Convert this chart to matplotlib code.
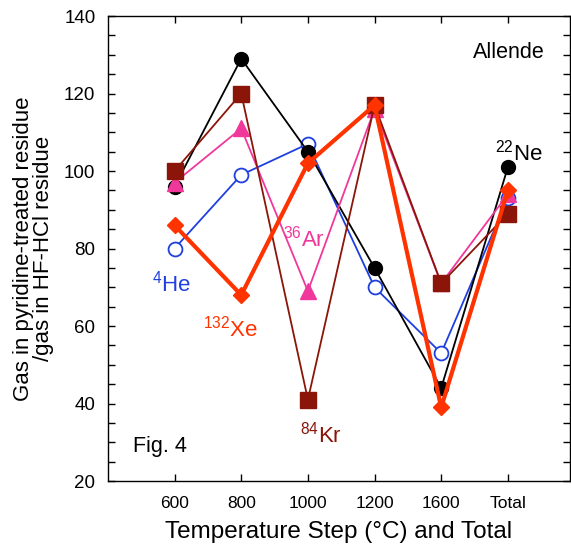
import matplotlib
matplotlib.use("Agg")
import matplotlib.pyplot as plt
from matplotlib.ticker import MultipleLocator

plt.rcParams['font.family'] = ['Liberation Sans', 'DejaVu Sans']
plt.rcParams['mathtext.fontset'] = 'custom'
plt.rcParams['mathtext.rm'] = 'Liberation Sans'
plt.rcParams['mathtext.it'] = 'Liberation Sans'

steps = ['600', '800', '1000', '1200', '1600', 'Total']
he4 = [80, 99, 107, 70, 53, 93]
ne22 = [96, 129, 105, 75, 44, 101]
ar36 = [97, 111, 69, 116, 71, 94]
kr84 = [100, 120, 41, 117, 71, 89]
xe132 = [86, 68, 102, 117, 39, 95]

xpos = list(range(1, len(steps) + 1))

fig = plt.figure(figsize=(5.71, 5.45), dpi=100)
ax = fig.add_axes([0.189, 0.1174, 0.809, 0.8532])

ax.plot(xpos, he4, color='#1f3fe0', lw=1.3, marker='o', ms=10,
        mfc='white', mec='#1f3fe0', mew=1.3)
ax.plot(xpos, ne22, color='black', lw=1.3, marker='o', ms=10)
ax.plot(xpos, ar36, color='#f0389c', lw=1.3, marker='^', ms=11)
ax.plot(xpos, kr84, color='#8b1508', lw=1.3, marker='s', ms=11)
ax.plot(xpos, xe132, color='#ff3300', lw=3, marker='D', ms=8.5)

# labels in the plot
ax.text(5.47, 129.2, 'Allende', fontsize=15.5)
ax.text(5.81, 102.8, '$^{22}$Ne', fontsize=16, color='black')
ax.text(0.66, 68.8, '$^{4}$He', fontsize=16, color='#1f3fe0')
ax.text(1.43, 57.2, '$^{132}$Xe', fontsize=16, color='#ff3300')
ax.text(2.63, 80.4, '$^{36}$Ar', fontsize=16, color='#f0389c')
ax.text(2.88, 30, '$^{84}$Kr', fontsize=16, color='#8b1508')
ax.text(0.37, 27.5, 'Fig. 4', fontsize=15.5)

ax.set_xlim(0, 6.93)
ax.set_ylim(20, 140)
ax.set_xticks(xpos)
ax.set_xticklabels(steps, fontsize=12.5)
ax.yaxis.set_major_locator(MultipleLocator(20))
ax.yaxis.set_minor_locator(MultipleLocator(5))
ax.tick_params(axis='y', labelsize=13.5, pad=9)
ax.tick_params(which='both', direction='in', top=True, right=True,
               length=5, width=1)
ax.tick_params(axis='x', pad=11)

for s in ax.spines.values():
    s.set_linewidth(1)

ax.set_xlabel('Temperature Step (°C) and Total', fontsize=17.5)
ax.xaxis.set_label_coords(0.5, -0.085)
ax.set_ylabel('Gas in pyridine-treated residue\n/gas in HF-HCl residue',
              fontsize=16, linespacing=0.95)
ax.yaxis.set_label_coords(-0.117, 0.5)

fig.savefig('out.png', dpi=100)
